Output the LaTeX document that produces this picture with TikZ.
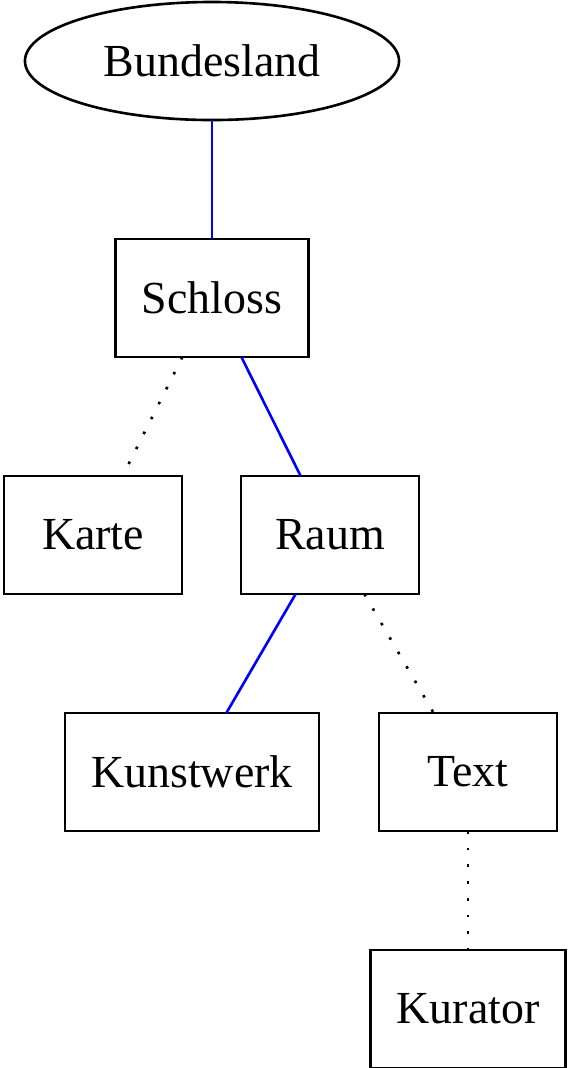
\documentclass[tikz,border=0pt]{standalone}
\usepackage{fontspec}
\setmainfont{Liberation Serif}
\usetikzlibrary{shapes.geometric}
\begin{document}
\begin{tikzpicture}[x=0.305pt,y=-0.305pt,
  box/.style={draw=black,line width=0.8pt,rectangle,inner sep=0pt,outer sep=0pt,minimum height=36pt,font=\fontsize{14pt}{16pt}\selectfont},
  oval/.style={draw=black,line width=0.8pt,ellipse,inner sep=0pt,outer sep=0pt,minimum height=36pt,minimum width=114.1pt,font=\fontsize{14pt}{16pt}\selectfont},
  solidedge/.style={draw=blue,line width=0.8pt},
  dotedge/.style={draw=black,line width=0.8pt,dash pattern=on 0.8pt off 4.3pt}]
\useasboundingbox (0,0) rectangle (568,1068);
\node[oval] (bl) at (212,61) {Bundesland};
\node[box,minimum width=58.9pt] (schloss) at (212,298) {Schloss};
\node[box,minimum width=54.3pt] (karte) at (93,535) {Karte};
\node[box,minimum width=54.3pt] (raum) at (330,535) {Raum};
\node[box,minimum width=77.5pt] (kunst) at (192,772) {Kunstwerk};
\node[box,minimum width=54.3pt] (text) at (468,772) {Text};
\node[box,minimum width=59.5pt] (kurator) at (468,1009) {Kurator};
\draw[solidedge] (bl) -- (schloss);
\draw[dotedge] (schloss) -- (karte);
\draw[solidedge] (schloss) -- (raum);
\draw[solidedge] (raum) -- (kunst);
\draw[dotedge] (raum) -- (text);
\draw[dotedge] (text) -- (kurator);
\end{tikzpicture}
\end{document}
